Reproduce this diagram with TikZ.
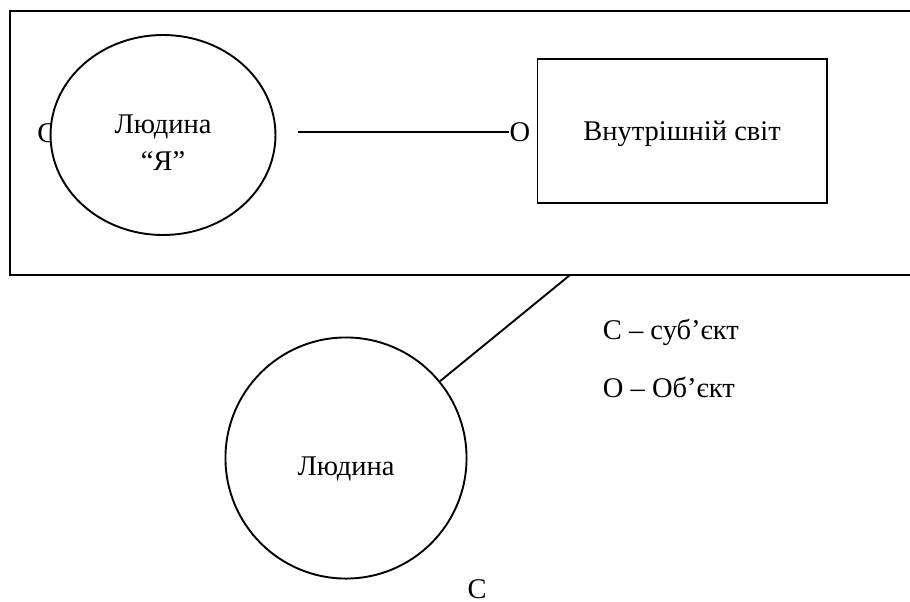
\documentclass[tikz,border=0pt]{standalone}
\usepackage{fontspec}
\setmainfont{Liberation Serif}
\usetikzlibrary{shapes.geometric}

\tikzset{
    txt/.style={inner sep=0pt, font=\fontsize{12}{15.6}\selectfont},
    selfshape/.style={txt, draw, ellipse, fill=white, align=center, minimum width=94.7pt, minimum height=84.2pt},
    worldbox/.style={txt, draw, rectangle, text height=11pt, minimum width=121.7pt, minimum height=60.6pt},
    personshape/.style={txt, draw, circle, text height=17pt, minimum size=101.5pt},
}

\begin{document}
\begin{tikzpicture}[x=0.421pt, y=-0.421pt, line width=0.8pt]
    \useasboundingbox (0,0) rectangle (910,601);

    \draw (910,11) -- (10,11) -- (10,275) -- (910,275);
    \coordinate (framebottom) at (570,275);

    \node[txt] (subjleft) at (47,133) {С};
    \node[selfshape] (self) at (163,135) {\rule{0pt}{14pt}Людина\\“Я”};

    \coordinate (linestart) at (298,132);
    \node[txt] (objmark) at (520,132) {О};
    \draw (linestart) -- (objmark.west);

    \node[worldbox] (world) at (682,131) {Внутрішній світ};

    \node[personshape] (person) at (346,458) {Людина};
    \draw (framebottom) -- (person);
    \node[txt] (subjbottom) at (477,589) {С};

    \node[txt, anchor=base west] (legendsubj) at (602,339) {С – суб’єкт};
    \node[txt, anchor=base west] (legendobj) at (602,397) {О – Об’єкт};

\end{tikzpicture}
\end{document}
